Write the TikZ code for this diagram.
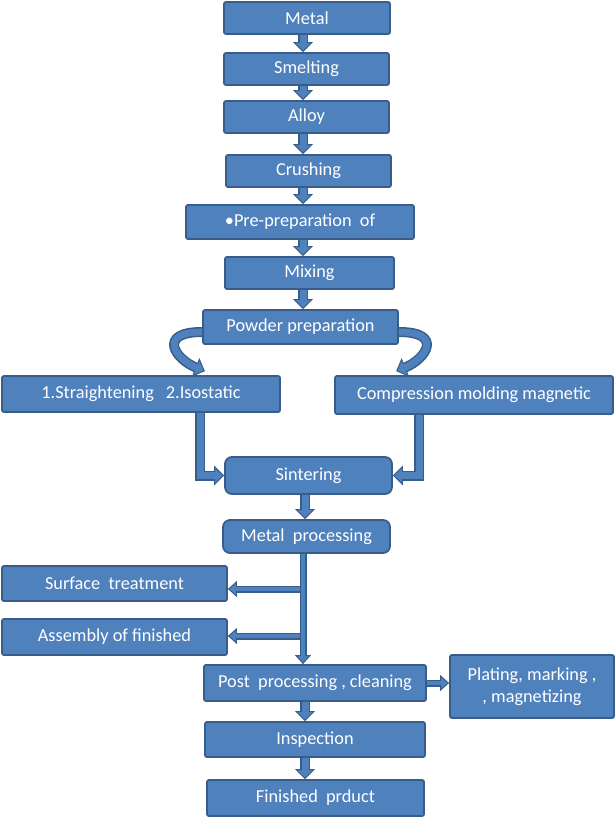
\documentclass[tikz,border=0pt]{standalone}
\usepackage{fontspec}
\setmainfont{Carlito}
\usetikzlibrary{arrows.meta,calc}
\definecolor{fillc}{RGB}{79,129,189}
\definecolor{bordc}{RGB}{56,93,138}
\tikzset{
  box/.style={rectangle, rounded corners=2pt, draw=bordc, line width=1.8pt, fill=fillc,
    text=white, font=\fontsize{18.3}{22}\selectfont, inner sep=2pt, align=center},
  rbox/.style={box, rounded corners=7pt},
  barrow/.style={draw=bordc, line width=1pt,
    -{Triangle[width=20pt,length=10pt,fill=fillc]},
    postaction={draw=bordc, line width=10pt, -, shorten >=9.5pt},
    postaction={draw=fillc, line width=7pt, -, shorten >=8.5pt}},
  sarrow/.style={draw=bordc, line width=1pt,
    -{Triangle[width=16pt,length=9pt,fill=fillc]},
    postaction={draw=bordc, line width=7pt, -, shorten >=8.5pt},
    postaction={draw=fillc, line width=4.5pt, -, shorten >=7.5pt}}
}
\begin{document}
\begin{tikzpicture}[x=1pt,y=1pt]
\useasboundingbox (0,0) rectangle (614,-832);
\coordinate (ax) at (303,0);
\coordinate (bx) at (305,0);
\coordinate (lx) at (200,0);
\coordinate (rx) at (419,0);
\coordinate (j1) at (300,-589);
\coordinate (j2) at (300,-636);

\node[box, minimum width=166pt, minimum height=32pt] (metal) at (307,-18) {Metal};
\node[box, minimum width=165pt, minimum height=32pt] (smelt) at (306.5,-69) {Smelting};
\node[box, minimum width=165pt, minimum height=32pt] (alloy) at (306.5,-117) {Alloy};
\node[box, minimum width=165pt, minimum height=32pt] (crush) at (308.5,-171) {Crushing};
\node[box, minimum width=228pt, minimum height=34pt] (pre) at (300,-222) {•Pre-preparation\ \ of};
\node[box, minimum width=169pt, minimum height=32pt] (mix) at (309.5,-273) {Mixing};
\node[box, minimum width=195pt, minimum height=34pt] (pow) at (300.5,-327) {Powder preparation};
\node[box, minimum width=278pt, minimum height=36pt] (str) at (141,-394) {1.Straightening\hspace{12pt}2.Isostatic};
\node[box, minimum width=278pt, minimum height=38pt] (comp) at (474,-395) {Compression molding magnetic};
\node[rbox, minimum width=167pt, minimum height=37pt] (sint) at (308.5,-475.5) {Sintering};
\node[rbox, minimum width=167pt, minimum height=33pt] (mproc) at (306.5,-536.5) {Metal\ \ processing};
\node[box, minimum width=225pt, minimum height=35pt] (surf) at (114.5,-583.5) {Surface\ \ treatment};
\node[box, minimum width=225pt, minimum height=36pt] (assem) at (114.5,-637) {Assembly of finished};
\node[box, minimum width=222pt, minimum height=36pt] (post) at (315,-683) {Post\ \ processing , cleaning};
\node[box, minimum width=164pt, minimum height=63pt] (plat) at (532,-686.5) {Plating, marking ,\\, magnetizing};
\node[box, minimum width=220pt, minimum height=35pt] (insp) at (315,-739.5) {Inspection};
\node[box, minimum width=217pt, minimum height=36pt] (fin) at (315.5,-798) {Finished\ \ prduct};

\draw[barrow] (metal.south -| ax) -- (smelt.north -| ax);
\draw[barrow] (smelt.south -| ax) -- (alloy.north -| ax);
\draw[barrow] (alloy.south -| ax) -- (crush.north -| ax);
\draw[barrow] (crush.south -| ax) -- (pre.north -| ax);
\draw[barrow] (pre.south -| ax) -- (mix.north -| ax);
\draw[barrow] (mix.south -| ax) -- (pow.north -| ax);

\draw[barrow] ($(pow.west)+(0,-5)$) .. controls +(-45,0) and +(-30,12) .. ($(str.north east)+(-76,4)$);
\draw[barrow] ($(pow.east)+(0,-5)$) .. controls +(45,0) and +(30,12) .. ($(comp.north west)+(62,4)$);

\draw[barrow] (str.south -| lx) |- (sint.west);
\draw[barrow] (comp.south -| rx) |- (sint.east);

\draw[barrow] (sint.south -| bx) -- (mproc.north -| bx);

\draw[sarrow] (j1) -- (surf.east |- j1);
\draw[sarrow] (j2) -- (assem.east |- j2);
\draw[sarrow] (mproc.south -| ax) -- (post.north -| ax);

\draw[sarrow] (post.east) -- (plat.west |- post.east);
\draw[barrow] (post.south -| bx) -- (insp.north -| bx);
\draw[barrow] (insp.south -| bx) -- (fin.north -| bx);
\end{tikzpicture}
\end{document}
